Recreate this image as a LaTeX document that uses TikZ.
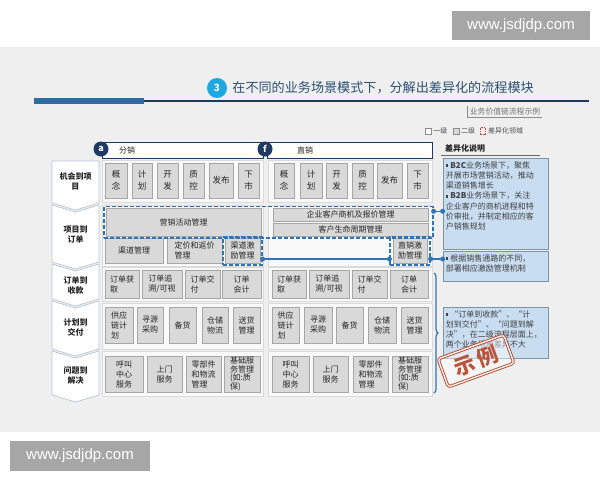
\documentclass[tikz,border=0pt]{standalone}
\usepackage{fontspec}
\setmainfont{Noto Sans CJK SC}
\newfontfamily\wmfont{Liberation Sans}
\usepackage{xcolor}
\usetikzlibrary{calc,
	positioning,
	decorations.pathreplacing}

\definecolor{slidebg}{HTML}{EFEFEF}
\definecolor{titleblue}{HTML}{2B4F72}
\definecolor{cyanbadge}{HTML}{1FA7E1}
\definecolor{barblue}{HTML}{2E6DA4}
\definecolor{navy}{HTML}{203864}
\definecolor{cellfill}{HTML}{D9D9D9}
\definecolor{celldraw}{HTML}{A6A6A6}
\definecolor{panelfill}{HTML}{F9F9F9}
\definecolor{paneldraw}{HTML}{DADADA}
\definecolor{chevdraw}{HTML}{B8C6D6}
\definecolor{dashblue}{HTML}{2E75B6}
\definecolor{notefill}{HTML}{C9DDF1}
\definecolor{notedraw}{HTML}{7F93A8}
\definecolor{stampred}{HTML}{B9553A}
\definecolor{wmgray}{HTML}{A6A6A6}

\newcommand{\blt}{\rule[1.2pt]{2.6pt}{2.6pt}\hspace{2pt}}

\begin{document}
\begin{tikzpicture}[x=1pt, y=-1pt,
	cell/.style={fill=cellfill, draw=celldraw, line width=0.6pt, inner sep=0.5pt, align=left, text=black!85, font=\fontsize{8}{10}\selectfont},
	r1/.style={cell, minimum height=35, font=\fontsize{8.5}{12}\selectfont},
	r2/.style={cell, minimum height=25},
	r3/.style={cell, minimum height=28},
	r4/.style={cell, minimum height=36},
	r5/.style={cell, minimum height=36},
	panel/.style={fill=panelfill, draw=paneldraw, line width=0.5pt},
	chev/.style={fill=white, draw=chevdraw, line width=0.7pt},
	rowlbl/.style={align=center, inner sep=0pt, text=black!85, font=\fontsize{8}{10}\selectfont\bfseries},
	hdbox/.style={draw=navy, fill=white, line width=1pt, minimum height=16, inner sep=0pt},
	hdbadge/.style={circle, fill=navy, text=white, minimum size=15, inner sep=0pt, font=\fontsize{9}{9}\selectfont\bfseries},
	diffbox/.style={draw=dashblue, dash pattern=on 4pt off 2pt, line width=1.2pt, inner sep=0pt},
	link/.style={draw=dashblue, line width=1.2pt},
	dot/.style={circle, fill=dashblue, minimum size=5, inner sep=0pt},
	note/.style={fill=notefill, draw=notedraw, line width=0.8pt, inner sep=0pt, minimum width=105},
	notetext/.style={align=left, inner sep=0pt, text=black!75, font=\fontsize{8}{10.3}\selectfont},
	legtext/.style={inner sep=1pt, text=black!70, font=\fontsize{7}{7}\selectfont},
	wm/.style={fill=wmgray, text=white, inner sep=0pt, font=\wmfont\fontsize{15}{17}\selectfont}]
	\useasboundingbox (0,0) rectangle (600,480);
	\fill[slidebg] (0,47) rectangle (600,432);

	% watermarks
	\node (wmtop) [wm, minimum width=138, minimum height=29] at (521,25.5) {www.jsdjdp.com};
	\node (wmbot) [wm, minimum width=140, minimum height=30] at (80,456) {www.jsdjdp.com};

	% title
	\node (badge) [circle, fill=cyanbadge, text=white, minimum size=20, inner sep=0pt, font=\fontsize{10}{10}\selectfont\bfseries] at (217,88) {3};
	\node (title) [right=5pt of badge, inner sep=0pt, text=titleblue, font=\fontsize{13.1}{14}\selectfont] {在不同的业务场景模式下，分解出差异化的流程模块};
	\fill[barblue] (34,98) rectangle (144,104);
	\draw[navy, line width=1.2pt] (144,101) -- (589,101);
	\node (vcbox) [inner sep=2pt, text=black!55, font=\fontsize{7.8}{8}\selectfont] at (505,112) {业务价值链流程示例};
	\draw[black!45, line width=0.8pt] (vcbox.north west) -- (vcbox.south west) -- (vcbox.south east);

	% legend
	\node (lg1) [draw=black!45, fill=white, minimum size=6, inner sep=0pt] at (428,131) {};
	\node (lg1t) [legtext, right=1pt of lg1] {一级};
	\node (lg2) [draw=black!45, fill=cellfill, minimum size=6, inner sep=0pt, right=4pt of lg1t] {};
	\node (lg2t) [legtext, right=1pt of lg2] {二级};
	\node (lg3) [draw=stampred, dash pattern=on 1.5pt off 1pt, minimum width=5, minimum height=7, inner sep=0pt, right=4pt of lg2t] {};
	\node (lg3t) [legtext, right=1pt of lg3] {差异化领域};

	% row labels
	\draw[chev] (52,161) -- (99,161) -- (99,203) -- (75.5,210) -- (52,203) -- cycle;
	\draw[chev] (52,205) -- (75.5,212) -- (99,205) -- (99,262) -- (75.5,269) -- (52,262) -- cycle;
	\draw[chev] (52,264) -- (75.5,271) -- (99,264) -- (99,299) -- (75.5,306) -- (52,299) -- cycle;
	\draw[chev] (52,301) -- (75.5,308) -- (99,301) -- (99,349) -- (75.5,356) -- (52,349) -- cycle;
	\draw[chev] (52,351) -- (75.5,358) -- (99,351) -- (99,395) -- (75.5,402) -- (52,395) -- cycle;
	\node (lbl1) [rowlbl] at (75.5,181) {机会到项\\目};
	\node (lbl2) [rowlbl] at (75.5,234) {项目到\\订单};
	\node (lbl3) [rowlbl] at (75.5,285) {订单到\\收款};
	\node (lbl4) [rowlbl] at (75.5,327) {计划到\\交付};
	\node (lbl5) [rowlbl] at (75.5,375) {问题到\\解决};

	% panels
	\draw[panel] (102,160) rectangle (263,202);
	\draw[panel] (268,160) rectangle (432,202);
	\draw[panel] (102,205) rectangle (263,266);
	\draw[panel] (268,205) rectangle (432,266);
	\draw[panel] (102,267) rectangle (263,301);
	\draw[panel] (268,267) rectangle (432,301);
	\draw[panel] (102,303) rectangle (263,349);
	\draw[panel] (268,303) rectangle (432,349);
	\draw[panel] (102,351) rectangle (263,396);
	\draw[panel] (268,351) rectangle (432,396);

	% headers
	\node (hdA) [hdbox, minimum width=161] at (182.5,150) {};
	\node (hdAt) [inner sep=0pt, text=black!85, font=\fontsize{8}{8}\selectfont] at (127,150) {分销};
	\node (bdgA) [hdbadge] at (101,149) {a};
	\node (hdF) [hdbox, minimum width=165] at (349.5,150) {};
	\node (hdFt) [inner sep=0pt, text=black!85, font=\fontsize{8}{8}\selectfont] at (305,150) {直销};
	\node (bdgF) [hdbadge] at (265,149) {f};

	% opportunity to project
	\node (ka1) [r1, minimum width=22] at (116,180.5) {概\\念};
	\node (ka2) [r1, minimum width=20] at (142,180.5) {计\\划};
	\node (ka3) [r1, minimum width=21] at (167.5,180.5) {开\\发};
	\node (ka4) [r1, minimum width=21] at (193.5,180.5) {质\\控};
	\node (ka5) [r1, minimum width=24] at (221,180.5) {发布};
	\node (ka6) [r1, minimum width=21] at (248.5,180.5) {下\\市};
	\node (kb1) [r1, minimum width=20] at (284,180.5) {概\\念};
	\node (kb2) [r1, minimum width=22] at (311,180.5) {计\\划};
	\node (kb3) [r1, minimum width=21] at (336.5,180.5) {开\\发};
	\node (kb4) [r1, minimum width=21] at (362.5,180.5) {质\\控};
	\node (kb5) [r1, minimum width=25] at (389.5,180.5) {发布};
	\node (kb6) [r1, minimum width=21] at (417.5,180.5) {下\\市};

	% project to order
	\node (mkt) [cell, minimum width=155, minimum height=28] at (183.5,222) {营销活动管理};
	\node (oppq) [cell, minimum width=155, minimum height=13] at (350.5,214.5) {企业客户商机及报价管理};
	\node (clm) [cell, minimum width=155, minimum height=13] at (350.5,229.5) {客户生命周期管理};
	\node (chmgmt) [r2, minimum width=58] at (134,250.5) {渠道管理};
	\node (price) [r2, minimum width=55] at (194.5,250.5) {定价和返价\\管理};
	\node (chinc) [r2, minimum width=35] at (242.5,250.5) {渠道激\\励管理};
	\node (dsinc) [r2, minimum width=34] at (410,250.5) {直销激\\励管理};
	\node (diffA) [diffbox, minimum width=329, minimum height=31.5] at (268.5,222.25) {};
	\node (diffB) [diffbox, minimum width=39, minimum height=28] at (242.5,251) {};
	\node (diffC) [diffbox, minimum width=40, minimum height=28] at (410,251) {};

	% order to cash
	\node (oa1) [r3, minimum width=34] at (122,284) {订单获\\取};
	\node (oa2) [r3, minimum width=40] at (162,284) {订单追\\溯/可视};
	\node (oa3) [r3, minimum width=35] at (202.5,284) {订单交\\付};
	\node (oa4) [r3, minimum width=39] at (241.5,284) {订单\\会计};
	\node (ob1) [r3, minimum width=34] at (289,284) {订单获\\取};
	\node (ob2) [r3, minimum width=40] at (329,284) {订单追\\溯/可视};
	\node (ob3) [r3, minimum width=35] at (369.5,284) {订单交\\付};
	\node (ob4) [r3, minimum width=38] at (409,284) {订单\\会计};

	% plan to deliver
	\node (pa1) [r4, minimum width=28] at (119,325) {供应\\链计\\划};
	\node (pa2) [r4, minimum width=26] at (150,325) {寻源\\采购};
	\node (pa3) [r4, minimum width=27] at (182.5,325) {备货};
	\node (pa4) [r4, minimum width=26] at (215,325) {仓储\\物流};
	\node (pa5) [r4, minimum width=27] at (246.5,325) {送货\\管理};
	\node (pb1) [r4, minimum width=27] at (285.5,325) {供应\\链计\\划};
	\node (pb2) [r4, minimum width=28] at (318,325) {寻源\\采购};
	\node (pb3) [r4, minimum width=27] at (349.5,325) {备货};
	\node (pb4) [r4, minimum width=28] at (382,325) {仓储\\物流};
	\node (pb5) [r4, minimum width=27] at (414.5,325) {送货\\管理};

	% issue to resolution
	\node (sa1) [r5, minimum width=38] at (124,374) {呼叫\\中心\\服务};
	\node (sa2) [r5, minimum width=35] at (164.5,374) {上门\\服务};
	\node (sa3) [r5, minimum width=35] at (203.5,374) {零部件\\和物流\\管理};
	\node (sa4) [r5, minimum width=36, font=\fontsize{8}{8.6}\selectfont] at (242,374) {基础服\\务管理\\(如:质\\保)};
	\node (sb1) [r5, minimum width=37] at (290.5,374) {呼叫\\中心\\服务};
	\node (sb2) [r5, minimum width=35] at (330.5,374) {上门\\服务};
	\node (sb3) [r5, minimum width=35] at (370.5,374) {零部件\\和物流\\管理};
	\node (sb4) [r5, minimum width=36, font=\fontsize{8}{8.6}\selectfont] at (410,374) {基础服\\务管理\\(如:质\\保)};

	% notes
	\node (notehd) [inner sep=0pt, text=black!85, font=\fontsize{8}{8}\selectfont\bfseries, anchor=west] at (445,148) {差异化说明};
	\draw[black!60, line width=1pt] (441,155.5) -- (540,155.5);
	\node (note1) [note, minimum height=91] at (495.5,203.5) {};
	\node (note1txt) [notetext, below right=3.5pt and 3pt of note1.north west] {\blt\textbf{B2C}业务场景下，聚焦\\开展市场营销活动，推动\\渠道销售增长\\\blt\textbf{B2B}业务场景下，关注\\企业客户的商机进程和特\\价审批，并制定相应的客\\户销售规划};
	\node (note2) [note, minimum height=30] at (495.5,266) {};
	\node (note2txt) [notetext, below right=3.5pt and 3pt of note2.north west] {\blt 根据销售通路的不同，\\部署相应激励管理机制};
	\node (note3) [note, minimum height=51] at (495.5,332.5) {};
	\node (note3txt) [notetext, below right=3.5pt and 3pt of note3.north west] {\blt “订单到收款”、“计\\划到交付”、“问题到解\\决”，在二级流程层面上，\\两个业务场景差异不大};

	% connectors
	\node (d1) [dot] at ([yshift=11pt]diffA.east) {};
	\node (d2) [dot] at (d1 -| note1.west) {};
	\draw[link] (d1) -- (d2);
	\node (d3) [dot] at ([yshift=-8pt]diffB.east) {};
	\node (d4) [dot] at (d3 -| diffC.west) {};
	\node (d5) [dot] at (d3 -| diffC.east) {};
	\node (d6) [dot] at (d3 -| note2.west) {};
	\draw[link] (d3) -- (d4);
	\draw[link] (d5) -- (d6);
	\draw[dashblue, line width=1.2pt, decorate, decoration={brace, amplitude=4pt}] (434,273) -- (434,393);

	% stamp
	\node (stamp) [rotate=20, draw=stampred, double=white, double distance=1.2pt, line width=1pt, rounded corners=3pt, fill=white, fill opacity=0.45, text opacity=1, text=stampred, minimum width=70, minimum height=30, font=\fontsize{21}{21}\selectfont\bfseries] at (476,361) {示\hspace{4pt}例};
\end{tikzpicture}
\end{document}
